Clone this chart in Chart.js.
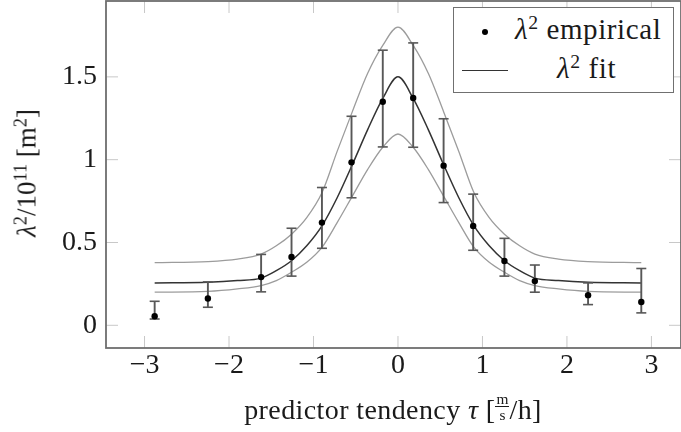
<!DOCTYPE html>
<html>
<head>
<meta charset="utf-8">
<script src="https://cdn.jsdelivr.net/npm/chart.js@4/dist/chart.umd.min.js"></script>
<style>
  body { margin: 0; background: #fff; overflow: hidden; }
  #wrap { position: relative; width: 681px; height: 432px; font-family: 'Liberation Serif', serif; color: #1a1a1a; }
  #chart { position: absolute; left: 0; top: 0; }
  sup { font-size: 0.68em; vertical-align: 0.5em; line-height: 0; }
  #legend { position: absolute; left: 453px; top: 7px; width: 219px; height: 84px; border: 1.6px solid #707070; background: #fff; font-size: 29px; letter-spacing: 0.6px; }
  #legend .dot { position: absolute; left: 28px; top: 21px; width: 6px; height: 6px; border-radius: 50%; background: #000; }
  #legend .line { position: absolute; left: 8px; top: 62px; width: 46px; height: 0; border-top: 1.5px solid #333; }
  #legend .t1 { position: absolute; left: 61px; top: 5px; white-space: nowrap; }
  #legend .t2 { position: absolute; left: 103px; top: 44px; white-space: nowrap; }
  #xtitle { position: absolute; left: 0; width: 786px; top: 391px; text-align: center; font-size: 28px; letter-spacing: 0.4px; white-space: nowrap; }
  .frac { display: inline-block; vertical-align: -0.1em; font-size: 0.55em; line-height: 1; text-align: center; letter-spacing: 0; }
  .frac span { display: block; padding: 0 1px; }
  .frac span:first-child { border-bottom: 1px solid #1a1a1a; }
  #ytitle { position: absolute; left: 27px; top: 173px; transform: translate(-50%, -50%) rotate(-90deg); font-size: 27px; white-space: nowrap; }
</style>
</head>
<body>
<div id="wrap">
  <canvas id="chart" width="681" height="432"></canvas>
  <div id="legend">
    <div class="dot"></div><div class="t1"><i>λ</i><sup>2</sup> empirical</div>
    <div class="line"></div><div class="t2"><i>λ</i><sup>2</sup> fit</div>
  </div>
  <div id="ytitle"><i>λ</i><sup>2</sup>/10<sup>11</sup> [m<sup>2</sup>]</div>
  <div id="xtitle">predictor tendency <i>τ</i> [<span class="frac"><span>m</span><span>s</span></span>/h]</div>
</div>
<script>
// empirical points with error bars
const empiricalX = [-2.88, -2.25, -1.62, -1.26, -0.90, -0.55, -0.18, 0.18, 0.54, 0.89, 1.26, 1.62, 2.25, 2.88];
const empiricalY = [0.055, 0.162, 0.291, 0.412, 0.620, 0.984, 1.350, 1.372, 0.964, 0.600, 0.388, 0.267, 0.182, 0.141];
const errLow     = [0.038, 0.109, 0.202, 0.297, 0.465, 0.770, 1.077, 1.075, 0.741, 0.453, 0.297, 0.200, 0.125, 0.075];
const errHigh    = [0.145, 0.262, 0.428, 0.586, 0.832, 1.262, 1.661, 1.705, 1.247, 0.792, 0.525, 0.364, 0.256, 0.343];

// fitted curve and its band
const fitX     = [-2.88, -2.25, -1.9, -1.62, -1.44, -1.26, -1.08, -0.9, -0.72, -0.54, -0.36, -0.18, 0, 0.18, 0.36, 0.54, 0.72, 0.9, 1.08, 1.26, 1.44, 1.62, 1.9, 2.25, 2.88];
const fitMid   = [0.256, 0.260, 0.270, 0.285, 0.330, 0.390, 0.480, 0.600, 0.770, 0.970, 1.180, 1.370, 1.500, 1.370, 1.180, 0.970, 0.770, 0.600, 0.480, 0.390, 0.330, 0.285, 0.270, 0.260, 0.256];
const fitUpper = [0.378, 0.385, 0.400, 0.430, 0.480, 0.550, 0.650, 0.800, 1.050, 1.290, 1.520, 1.690, 1.800, 1.690, 1.520, 1.290, 1.050, 0.800, 0.650, 0.550, 0.480, 0.430, 0.400, 0.385, 0.378];
const fitLower = [0.200, 0.205, 0.220, 0.240, 0.270, 0.320, 0.380, 0.470, 0.620, 0.780, 0.940, 1.075, 1.155, 1.075, 0.940, 0.780, 0.620, 0.470, 0.380, 0.320, 0.270, 0.240, 0.220, 0.205, 0.200];

const xTicks = [-3, -2, -1, 0, 1, 2, 3];
const yTicks = [0, 0.5, 1, 1.5];

function pairs(xs, ys) {
  return xs.map((x, i) => ({ x: x, y: ys[i] }));
}

function errorSegments() {
  const out = [];
  empiricalX.forEach((x, i) => {
    out.push({ x: x, y: errLow[i] }, { x: x, y: errHigh[i] }, { x: x, y: null });
  });
  return out;
}

// the frame and inward ticks on all four sides
const frame = {
  id: 'frame',
  beforeDatasetsDraw(chart) {
    const { ctx, chartArea: a, scales: { x, y } } = chart;
    ctx.save();
    ctx.strokeStyle = '#c8c8c8';
    ctx.lineWidth = 1;
    ctx.beginPath();
    xTicks.forEach(v => {
      const px = x.getPixelForValue(v);
      ctx.moveTo(px, a.top); ctx.lineTo(px, a.top + 12);
      ctx.moveTo(px, a.bottom); ctx.lineTo(px, a.bottom - 12);
    });
    yTicks.forEach(v => {
      const py = y.getPixelForValue(v);
      ctx.moveTo(a.left, py); ctx.lineTo(a.left + 12, py);
      ctx.moveTo(a.right, py); ctx.lineTo(a.right - 12, py);
    });
    ctx.stroke();
    ctx.strokeStyle = '#6e6e6e';
    ctx.lineWidth = 1.8;
    ctx.strokeRect(a.left, a.top, a.right - a.left, a.bottom - a.top);
    ctx.restore();
  }
};

function noPadding(s) {
  s.paddingTop = 0;
  s.paddingBottom = 0;
  s.paddingLeft = 0;
  s.paddingRight = 0;
}

const tickFont = { family: 'Liberation Serif', size: 28 };

new Chart(document.getElementById('chart'), {
  type: 'line',
  data: {
    datasets: [
      {
        label: 'empirical',
        data: pairs(empiricalX, empiricalY),
        showLine: false,
        pointRadius: 3.2,
        pointBackgroundColor: '#000',
        pointBorderWidth: 0,
        order: 0
      },
      {
        label: 'error',
        data: errorSegments(),
        borderColor: '#585858',
        borderWidth: 1.9,
        tension: 0,
        spanGaps: false,
        pointStyle: 'line',
        pointRadius: 5,
        pointBorderColor: '#585858',
        pointBorderWidth: 1.6,
        order: 1
      },
      {
        label: 'fit',
        data: pairs(fitX, fitMid),
        borderColor: '#333',
        borderWidth: 1.5,
        pointRadius: 0,
        cubicInterpolationMode: 'monotone',
        order: 2
      },
      {
        label: 'fit upper',
        data: pairs(fitX, fitUpper),
        borderColor: '#9c9c9c',
        borderWidth: 1.3,
        pointRadius: 0,
        cubicInterpolationMode: 'monotone',
        order: 3
      },
      {
        label: 'fit lower',
        data: pairs(fitX, fitLower),
        borderColor: '#9c9c9c',
        borderWidth: 1.3,
        pointRadius: 0,
        cubicInterpolationMode: 'monotone',
        order: 3
      }
    ]
  },
  options: {
    responsive: false,
    animation: false,
    events: [],
    layout: { autoPadding: false, padding: { top: 1, left: 0, right: 0, bottom: 0 } },
    plugins: { legend: { display: false }, tooltip: { enabled: false } },
    scales: {
      x: {
        type: 'linear',
        min: -3.456,
        max: 3.35,
        grid: { display: false, drawTicks: false },
        border: { display: false },
        afterBuildTicks: s => { s.ticks = xTicks.map(v => ({ value: v })); },
        afterFit: s => { s.height = 84; noPadding(s); },
        ticks: {
          font: tickFont,
          color: '#1a1a1a',
          padding: 1,
          maxRotation: 0,
          callback: v => String(v).replace('-', '\u2212')
        }
      },
      y: {
        type: 'linear',
        min: -0.137,
        max: 1.958,
        grid: { display: false, drawTicks: false },
        border: { display: false },
        afterBuildTicks: s => { s.ticks = yTicks.map(v => ({ value: v })); },
        afterFit: s => { s.width = 106; noPadding(s); },
        ticks: {
          font: tickFont,
          color: '#1a1a1a',
          padding: 9,
          callback: v => String(v)
        }
      }
    }
  },
  plugins: [frame]
});
</script>
</body>
</html>
